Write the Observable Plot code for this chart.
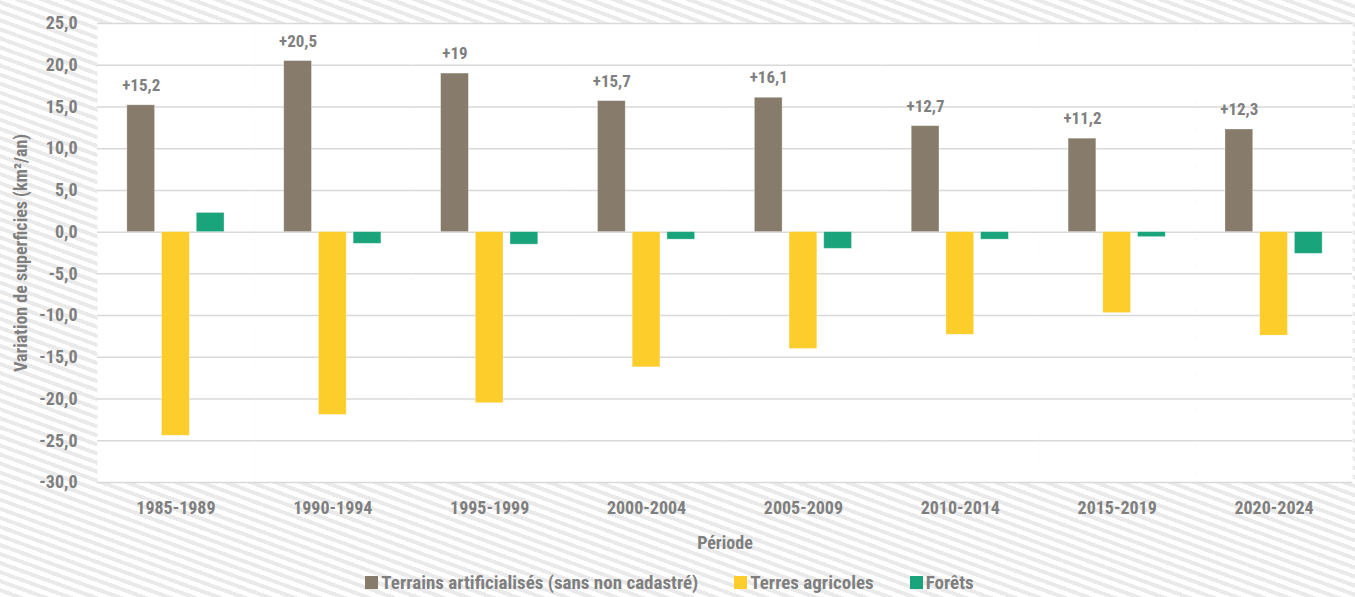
<!DOCTYPE html>
<html>
<head>
<meta charset="utf-8">
<script src="https://cdn.jsdelivr.net/npm/d3@7"></script>
<script src="https://cdn.jsdelivr.net/npm/@observablehq/plot@0.6"></script>
<style>
  html, body { margin: 0; padding: 0; }
  body {
    width: 1355px; height: 597px; overflow: hidden;
    background: repeating-linear-gradient(20deg, #ffffff 0px, #ffffff 4.5px, #eaeaea 4.5px, #eaeaea 8.5px);
    font-family: "Liberation Sans Narrow", "Roboto Condensed", "DejaVu Sans Condensed", "Arial Narrow", sans-serif;
    font-weight: bold; color: #7f7f7f;
  }
  #legend { display: flex; justify-content: center; align-items: center; height: 29px; font-size: 19px; padding-right: 16px; }
  .item { display: flex; align-items: center; margin: 0 18px; }
  .sw { width: 13px; height: 13px; margin-right: 3px; display: inline-block; }
</style>
</head>
<body>
<div id="chart"></div>
<div id="legend"></div>
<script>
const periods = ["1985-1989", "1990-1994", "1995-1999", "2000-2004", "2005-2009", "2010-2014", "2015-2019", "2020-2024"];
const series = ["Terrains artificialisés (sans non cadastré)", "Terres agricoles", "Forêts"];
const colors = ["#877c6b", "#fccd2b", "#1aa47c"];
const artificialises = [15.2, 20.5, 19, 15.7, 16.1, 12.7, 11.2, 12.3];
const agricoles = [-24.4, -21.9, -20.5, -16.2, -14.0, -12.3, -9.7, -12.4];
const forets = [2.3, -1.4, -1.5, -0.9, -2.0, -0.9, -0.6, -2.6];
const yTicks = [-30, -25, -20, -15, -10, -5, 0, 5, 10, 15, 20, 25];

const values = [artificialises, agricoles, forets];
const data = [];
periods.forEach((p, i) => series.forEach((s, j) => data.push({period: p, series: s, value: values[j][i]})));
const labels = data.filter(d => d.series === series[0]);

const fmtTick = d => d.toFixed(1).replace(".", ",");
const fmtLabel = d => "+" + String(d).replace(".", ",");
const font = '"Liberation Sans Narrow", "Roboto Condensed", "DejaVu Sans Condensed", "Arial Narrow", sans-serif';

const chart = Plot.plot({
  width: 1355,
  height: 568,
  marginLeft: 97,
  marginRight: 3,
  marginTop: 23,
  marginBottom: 86,
  style: {fontFamily: font, fontSize: "18px", fontWeight: "bold", color: "#7f7f7f", background: "transparent", overflow: "visible"},
  fx: {domain: periods, padding: 0, round: false, axis: "bottom", label: "Période", labelAnchor: "center", labelOffset: 66, tickSize: 0, tickPadding: 19, labelArrow: "none"},
  x: {domain: series, paddingInner: 0.2, paddingOuter: 0.86, round: false, axis: null},
  y: {domain: [-30, 25], ticks: yTicks, tickFormat: fmtTick, tickSize: 0, tickPadding: 20,
      label: "Variation de superficies (km²/an)", labelAnchor: "center", labelOffset: 83, labelArrow: "none"},
  color: {domain: series, range: colors},
  marks: [
    Plot.frame({fill: "white"}),
    Plot.gridY(yTicks, {stroke: "#d9d9d9", strokeWidth: 1.5, strokeOpacity: 1}),
    Plot.barY(data, {fx: "period", x: "series", y: "value", fill: "series", stroke: "white", strokeOpacity: 0.4, strokeWidth: 0.8}),
    Plot.text(labels, {fx: "period", x: "series", y: "value", text: d => fmtLabel(d.value), dy: -20, lineAnchor: "middle", fontSize: 17, fill: "#7f7f7f", fontWeight: "bold"})
  ]
});
document.getElementById("chart").appendChild(chart);

const legend = document.getElementById("legend");
series.forEach((s, i) => {
  const it = document.createElement("div");
  it.className = "item";
  const sw = document.createElement("span");
  sw.className = "sw";
  sw.style.background = colors[i];
  it.appendChild(sw);
  it.appendChild(document.createTextNode(s));
  legend.appendChild(it);
});
</script>
</body>
</html>
